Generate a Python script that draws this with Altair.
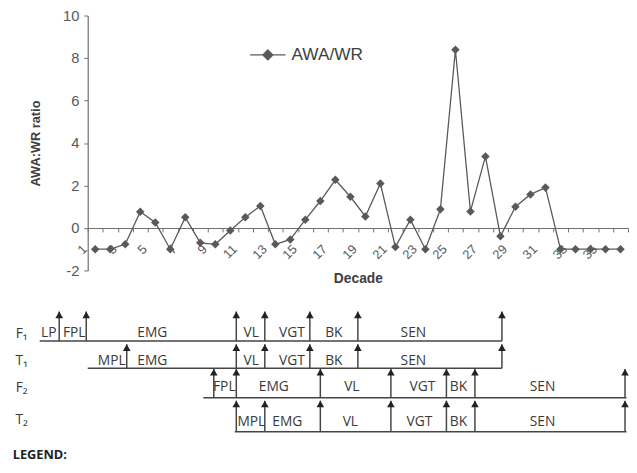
import altair as alt
import pandas as pd

# ---------------- top chart data ----------------
decades = list(range(1, 37))
awa_wr = [-1.0, -1.0, -0.77, 0.76, 0.26, -1.0, 0.5, -0.7, -0.77, -0.12,
          0.5, 1.04, -0.77, -0.54, 0.39, 1.27, 2.27, 1.47, 0.54, 2.09,
          -0.9, 0.39, -1.0, 0.88, 8.39, 0.78, 3.37, -0.39, 1.0, 1.58,
          1.9, -1.0, -1.0, -1.0, -1.0, -1.0]
series_name = "AWA/WR"
y_ticks = [-2, 0, 2, 4, 6, 8, 10]

# ---------------- phenology schematic data (positions in decade units) ----------------
row_names = ["F\u2081", "T\u2081", "F\u2082", "T\u2082"]
row_line_level = [46.7, 74.3, 104.3, 139.0]
row_tip_level = [16.7, 50.0, 75.0, 107.3]
row_text_level = [39.0, 66.7, 93.3, 129.0]
row_label_level = [40.0, 66.7, 94.0, 126.7]
row_label_pos = -3.9
line_start = [-2.7, 0.5, 8.2, 10.3]
line_end = [28.1, 28.1, 36.4, 36.4]
arrows_F1 = [-1.4, 0.4, 10.4, 12.3, 15.3, 18.5, 28.1]
arrows_T1 = [3.1, 10.4, 12.3, 15.3, 18.5, 28.1]
arrows_F2 = [8.9, 10.4, 16.0, 20.7, 24.4, 26.3, 36.3]
arrows_T2 = [10.4, 12.3, 16.0, 20.7, 24.4, 26.3, 36.3]
stages_F1 = ["LP", "FPL", "EMG", "VL", "VGT", "BK", "SEN"]
stage_pos_F1 = [-2.1, -0.4, 4.8, 11.4, 14.1, 16.9, 22.2]
stages_T1 = ["MPL", "EMG", "VL", "VGT", "BK", "SEN"]
stage_pos_T1 = [2.1, 4.8, 11.4, 14.1, 16.9, 22.2]
stages_F2 = ["FPL", "EMG", "VL", "VGT", "BK", "SEN"]
stage_pos_F2 = [9.6, 12.9, 18.1, 22.8, 25.2, 30.8]
stages_T2 = ["MPL", "EMG", "VL", "VGT", "BK", "SEN"]
stage_pos_T2 = [11.4, 13.8, 18.0, 22.6, 25.2, 30.8]
legend_word = "LEGEND:"
legend_word_level = 163.0

# ---------------- build tables ----------------
df = pd.DataFrame({"decade": decades, "value": awa_wr, "series": series_name})

all_arrows = [arrows_F1, arrows_T1, arrows_F2, arrows_T2]
all_stages = [stages_F1, stages_T1, stages_F2, stages_T2]
all_stage_pos = [stage_pos_F1, stage_pos_T1, stage_pos_F2, stage_pos_T2]

lines_df = pd.DataFrame({"row": row_names, "x": line_start, "x2": line_end, "y": row_line_level})
arrow_rows = []
stage_rows = []
for i, r in enumerate(row_names):
    for a in all_arrows[i]:
        arrow_rows.append({"row": r, "x": a, "base": row_line_level[i], "tip": row_tip_level[i]})
    for s, p in zip(all_stages[i], all_stage_pos[i]):
        stage_rows.append({"row": r, "stage": s, "x": p, "y": row_text_level[i]})
arrows_df = pd.DataFrame(arrow_rows)
stages_df = pd.DataFrame(stage_rows)
rowlab_df = pd.DataFrame({"row": row_names, "x": [row_label_pos] * 4, "y": row_label_level})
legword_df = pd.DataFrame({"t": [legend_word], "x": [row_label_pos - 0.6], "y": [legend_word_level]})

W = 549
H_TOP = 259
H_BOT = 160
AXIS_FONT = "Liberation Sans"
GREY = "#595959"

# ---------------- top chart ----------------
x_top = alt.X(
    "decade:O",
    scale=alt.Scale(type="band", paddingInner=0, paddingOuter=0),
    axis=alt.Axis(
        title="Decade", titleFont=AXIS_FONT, titleFontSize=14, titleFontWeight="bold",
        titleColor="#404040", titleBaseline="middle", titleY=51,
        offset=-H_TOP * 2 / 12, tickBand="extent", tickSize=4, tickColor="#707070",
        domainColor="#707070", domainWidth=1.2,
        labelAngle=-45, labelAlign="right", labelBaseline="middle",
        labelPadding=15, labelOffset=-11, labelOverlap=False, labelBound=False,
        labelExpr="datum.value % 2 == 1 ? datum.label : ''",
        labelFont=AXIS_FONT, labelFontSize=13, labelColor=GREY,
    ),
)
y_top = alt.Y(
    "value:Q",
    scale=alt.Scale(domain=[-2, 10], nice=False, zero=False),
    axis=alt.Axis(
        values=y_ticks, grid=False, title="AWA:WR ratio", titleFont=AXIS_FONT,
        titleFontSize=13, titleFontWeight="bold", titleColor="#404040", titlePadding=20,
        tickSize=4, tickColor="#707070", domainColor="#707070", domainWidth=1.2,
        labelExpr="datum.value < 0 ? '-' + abs(datum.value) : '' + datum.value",
        labelFont=AXIS_FONT, labelFontSize=15, labelColor=GREY, labelPadding=5,
    ),
)

legend_symbol = "M-1,0H1M0,-0.28L0.28,0L0,0.28L-0.28,0Z"
line_layer = alt.Chart(df).mark_line(color=GREY, strokeWidth=1.3).encode(x=x_top, y=y_top)
point_layer = alt.Chart(df).mark_point(shape="diamond", filled=True, size=75, opacity=1).encode(
    x=x_top, y=y_top,
    color=alt.Color(
        "series:N",
        scale=alt.Scale(range=[GREY]),
        legend=alt.Legend(
            title=None, orient="none", legendX=164, legendY=21, padding=0,
            symbolType=legend_symbol, symbolSize=1296, labelOffset=5,
            symbolFillColor=GREY, symbolStrokeColor=GREY, symbolStrokeWidth=1.3,
            symbolOpacity=1,
            labelFont=AXIS_FONT, labelFontSize=17.5, labelColor="#404040",
        ),
    ),
)
top = alt.layer(line_layer, point_layer).properties(width=W, height=H_TOP)

# ---------------- bottom schematic ----------------
xs = alt.Scale(domain=[0.5, 36.5], nice=False, zero=False)
ys = alt.Scale(domain=[0, H_BOT], nice=False, zero=False, reverse=True)
DARK = "#3a3a3a"
SFONT = "Open Sans"

h_lines = alt.Chart(lines_df).mark_rule(color="#444444", strokeWidth=1.5).encode(
    x=alt.X("x:Q", scale=xs, axis=None), x2="x2:Q", y=alt.Y("y:Q", scale=ys, axis=None))
shafts = alt.Chart(arrows_df).mark_rule(color="#444444", strokeWidth=1.5).encode(
    x=alt.X("x:Q", scale=xs, axis=None), y=alt.Y("base:Q", scale=ys, axis=None), y2="tip:Q")
heads = alt.Chart(arrows_df).mark_point(shape="triangle-up", filled=True, size=60, opacity=1,
                                         color="#222222", yOffset=3.4).encode(
    x=alt.X("x:Q", scale=xs, axis=None), y=alt.Y("tip:Q", scale=ys, axis=None))
stage_text = alt.Chart(stages_df).mark_text(font=SFONT, fontSize=14, color=DARK, baseline="middle").encode(
    x=alt.X("x:Q", scale=xs, axis=None), y=alt.Y("y:Q", scale=ys, axis=None), text="stage:N")
row_text = alt.Chart(rowlab_df).mark_text(font=SFONT, fontSize=14, color=DARK, baseline="middle").encode(
    x=alt.X("x:Q", scale=xs, axis=None), y=alt.Y("y:Q", scale=ys, axis=None), text="row:N")
leg_text = alt.Chart(legword_df).mark_text(font=SFONT, fontSize=13, fontWeight="bold", color="#222222",
                                           baseline="middle", align="left").encode(
    x=alt.X("x:Q", scale=xs, axis=None), y=alt.Y("y:Q", scale=ys, axis=None), text="t:N")

bottom = alt.layer(h_lines, shafts, heads, stage_text, row_text, leg_text).properties(width=W, height=H_BOT)

chart = alt.vconcat(top, bottom, spacing=10).properties(
    padding={"left": 4, "top": -3, "right": 0, "bottom": 0}
).configure_view(stroke=None)

chart.save("out.html", embed_options={"renderer": "svg", "actions": False})
